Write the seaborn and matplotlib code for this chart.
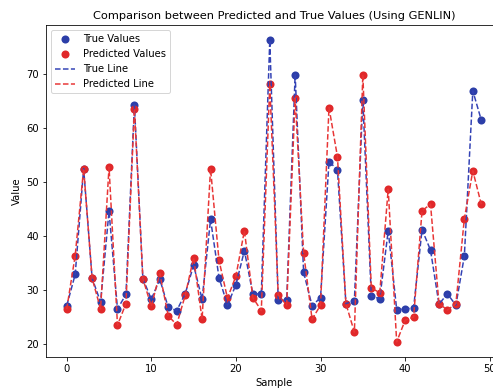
import numpy as np
import pandas as pd
import matplotlib
matplotlib.use("Agg")
import matplotlib.pyplot as plt
import seaborn as sns

samples = list(range(50))
true_values = [27.1, 32.9, 52.5, 32.2, 27.8, 44.6, 26.5, 29.2, 64.3, 32.1,
               28.3, 32.0, 26.8, 26.2, 29.3, 34.6, 28.3, 43.1, 32.3, 27.2,
               31.0, 37.3, 29.3, 29.3, 76.3, 28.1, 28.1, 69.9, 33.3, 27.1,
               28.6, 53.8, 52.3, 27.5, 28.0, 65.2, 28.9, 28.4, 41.0, 26.4,
               26.5, 26.7, 41.2, 37.4, 27.4, 29.3, 27.2, 36.3, 66.9, 61.5]
pred_values = [26.5, 36.4, 52.5, 32.2, 26.5, 52.8, 23.5, 27.5, 63.6, 32.1,
               27.0, 33.1, 25.2, 23.6, 29.0, 36.0, 24.6, 52.5, 35.5, 28.5,
               32.6, 41.0, 28.6, 26.2, 68.1, 29.1, 27.2, 65.6, 36.9, 24.6,
               27.2, 63.8, 54.7, 27.5, 22.2, 69.9, 30.4, 29.5, 48.7, 20.4,
               24.4, 25.0, 44.7, 45.9, 27.5, 26.3, 27.5, 43.2, 52.1, 45.9]

df = pd.DataFrame({"Sample": samples, "True": true_values, "Pred": pred_values})

blue = "#2c3ea8"
red = "#e0282a"

fig = plt.figure(figsize=(493/72, 390/72), dpi=72)
ax = fig.add_axes([46/493, 33/390, 456/493, 332/390])

sns.scatterplot(data=df, x="Sample", y="True", color=blue, label="True Values",
                s=65, edgecolor=blue, linewidth=0, ax=ax)
sns.scatterplot(data=df, x="Sample", y="Pred", color=red, label="Predicted Values",
                s=65, edgecolor=red, linewidth=0, ax=ax)
sns.lineplot(data=df, x="Sample", y="True", color="#3342b5", linestyle="--",
             label="True Line", ax=ax)
sns.lineplot(data=df, x="Sample", y="Pred", color="#e83535", linestyle="--",
             label="Predicted Line", ax=ax)

ax.set_title("Comparison between Predicted and True Values (Using GENLIN)", fontsize=11.4)
ax.set_xlabel("Sample")
ax.set_ylabel("Value")
ax.set_xticks([0, 10, 20, 30, 40, 50])
ax.set_yticks([20, 30, 40, 50, 60, 70])
ax.legend(loc="upper left")

fig.savefig("out.png", dpi=72)
